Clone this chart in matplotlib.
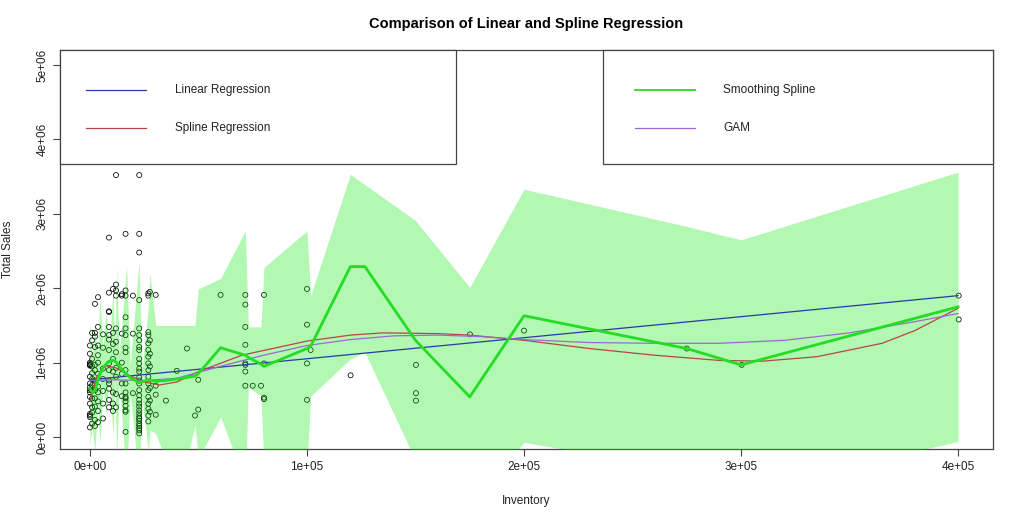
import numpy as np
import matplotlib
matplotlib.use('Agg')
import matplotlib.pyplot as plt
from matplotlib.patches import Rectangle
from matplotlib.lines import Line2D
from matplotlib.ticker import FuncFormatter

plt.rcParams['font.family'] = ['Liberation Sans', 'DejaVu Sans']

# scatter data: inventory columns and total sales (millions)
cols = {
    0: [0.13, 0.27, 0.29, 0.31, 0.45, 0.54, 0.60, 0.63, 0.67, 0.72, 0.81, 0.96, 0.97, 0.98, 1.00, 1.12, 1.23],
    1000: [0.18, 0.33, 0.40, 0.52, 0.62, 0.70, 0.78, 0.86, 0.95, 1.05, 1.30, 1.40],
    2300: [0.15, 0.23, 0.41, 0.52, 0.63, 0.72, 0.76, 0.90, 0.97, 1.21, 1.35, 1.40, 1.79],
    3700: [0.20, 0.35, 0.48, 0.60, 0.68, 0.85, 1.00, 1.10, 1.23, 1.48, 1.88],
    6000: [0.25, 0.45, 0.62, 0.78, 0.92, 1.20, 1.38],
    8750: [2.68, 1.94, 1.69, 1.68, 1.48, 1.37, 1.31, 1.17, 0.99, 0.90, 0.76, 0.72, 0.65, 0.50, 0.40],
    10600: [1.99, 1.40, 1.25, 1.05, 0.88, 0.60, 0.45, 0.35],
    12000: [3.52, 2.05, 1.97, 1.90, 1.46, 1.28, 1.14, 0.93, 0.81, 0.58, 0.40],
    14700: [1.92, 1.90, 1.39, 1.00, 0.85, 0.72, 0.55],
    16400: [2.73, 1.97, 1.90, 1.61, 1.46, 1.37, 1.20, 1.14, 0.90, 0.72, 0.60, 0.54, 0.52, 0.48, 0.42, 0.36, 0.34, 0.07],
    19800: [1.90, 1.39, 0.59],
    22700: [3.52, 2.73, 2.48, 1.84, 1.46, 1.37, 1.30, 1.21, 1.17, 1.05, 0.99, 0.92, 0.88, 0.80, 0.76, 0.72,
            0.63, 0.56, 0.50, 0.45, 0.41, 0.36, 0.32, 0.28, 0.25, 0.22, 0.18, 0.15, 0.12, 0.09, 0.05],
    26900: [1.93, 1.90, 1.41, 1.37, 1.26, 1.17, 1.08, 0.99, 0.90, 0.81, 0.72, 0.63, 0.54, 0.45, 0.38, 0.29, 0.21],
    27600: [1.95, 1.30, 1.12, 0.95, 0.66, 0.49, 0.34],
    30300: [1.91, 0.69, 0.57, 0.30],
    35000: [0.49],
    40000: [0.89],
    44700: [1.19],
    48400: [0.29],
    49900: [0.37, 0.77],
    60200: [1.91],
    71600: [1.91, 1.78, 1.48, 1.24, 0.99, 0.97, 0.88, 0.69],
    75000: [0.69],
    78800: [0.69],
    80200: [1.91, 0.99, 0.51, 0.53],
    100000: [1.99, 1.51, 0.99, 0.50],
    101700: [1.17],
    120100: [0.83],
    150200: [0.97, 0.59, 0.49],
    175100: [1.38],
    200000: [1.43],
    275000: [1.19],
    300300: [0.97],
    400300: [1.90, 1.58],
}
inventory = []
sales = []
for k, v in cols.items():
    inventory += [k] * len(v)
    sales += v
inventory = np.array(inventory)
sales = np.array(sales) * 1e6

# linear regression fit (ends of the line)
lin_x = [0, 400000]
lin_y = [0.77, 1.90]

# spline regression curve
spl_x = [0, 3000, 7000, 12000, 18000, 25000, 32000, 40000, 50000, 70000, 100000, 120000, 135000,
         160000, 175000, 200000, 230000, 260000, 290000, 310000, 335000, 365000, 380000, 400000]
spl_y = [0.48, 0.80, 0.96, 0.93, 0.83, 0.74, 0.70, 0.74, 0.88, 1.10, 1.29, 1.37, 1.40,
         1.39, 1.37, 1.30, 1.19, 1.10, 1.03, 1.02, 1.08, 1.26, 1.43, 1.73]

# GAM curve
gam_x = [0, 10000, 25000, 40000, 60000, 80000, 100000, 120000, 140000, 160000, 180000, 200000,
         230000, 260000, 290000, 320000, 350000, 380000, 400000]
gam_y = [0.76, 0.77, 0.76, 0.79, 0.95, 1.10, 1.23, 1.31, 1.36, 1.37, 1.35, 1.31,
         1.27, 1.26, 1.26, 1.30, 1.40, 1.55, 1.66]

# smoothing spline with its band
ss_x = [0, 1000, 2300, 3500, 4600, 6000, 7400, 9000, 10600, 11500, 12300, 13500, 16900, 18500,
        22600, 24000, 26900, 27600, 30300, 35000, 44700, 48400, 49900, 60200, 71600, 73000, 78800,
        80200, 100000, 101700, 120000, 126700, 150000, 175000, 200000, 275000, 300000, 400000]
ss_y = [0.65, 0.60, 0.62, 0.75, 0.85, 0.93, 0.98, 1.02, 1.03, 1.02, 1.00, 0.95, 0.84, 0.80,
        0.73, 0.74, 0.77, 0.76, 0.75, 0.76, 0.80, 0.82, 0.85, 1.20, 1.10, 1.07, 0.98,
        0.95, 1.19, 1.22, 2.29, 2.29, 1.30, 0.54, 1.63, 1.19, 0.97, 1.75]
ss_lo = [-0.10, 0.15, -0.20, 0.45, -0.10, 0.70, 0.30, 0.85, 0.00, 0.80, -0.30, 0.75, -0.60, 0.62,
         -0.60, 0.55, -0.20, 0.10, 0.05, -0.30, -0.30, 0.16, -0.29, 0.27, -0.60, 0.67, 0.55,
         -0.40, -0.39, 0.55, 1.05, 1.14, -0.31, -0.93, -0.07, -0.45, -0.71, -0.06]
ss_hi = [1.55, 1.05, 1.50, 1.05, 1.90, 1.20, 1.70, 1.20, 2.00, 1.20, 2.28, 1.10, 2.30, 0.95,
         2.35, 0.90, 1.75, 2.20, 1.50, 1.50, 1.50, 1.50, 1.99, 2.13, 2.77, 1.48, 1.48,
         2.28, 2.77, 1.90, 3.53, 3.39, 2.91, 2.01, 3.33, 2.83, 2.65, 3.56]

M = 1e6
c_lin = '#2b3aa8'
c_spl = '#b8454a'
c_ss = '#22dd22'
c_gam = '#9a6ad0'

fig = plt.figure(figsize=(10.24, 5.12), dpi=100)
ax = fig.add_axes([60 / 1024, 1 - 449 / 512, 933 / 1024, 399 / 512])

ax.scatter(inventory, sales, s=13, facecolors='none', edgecolors='black', linewidths=0.55, zorder=2)
ax.fill_between(ss_x, np.array(ss_lo) * M, np.array(ss_hi) * M, color=(0, 0.9, 0), alpha=0.3,
                linewidth=0, zorder=3)
ax.plot(lin_x, np.array(lin_y) * M, color=c_lin, lw=0.9, zorder=4)
ax.plot(spl_x, np.array(spl_y) * M, color=c_spl, lw=0.9, zorder=4)
ax.plot(ss_x, np.array(ss_y) * M, color=c_ss, lw=2, zorder=5)
ax.plot(gam_x, np.array(gam_y) * M, color=c_gam, lw=0.9, zorder=4)

ax.set_xlim(-13800, 416100)
ax.set_ylim(-0.16e6, 5.2e6)
ax.set_xticks([0, 100000, 200000, 300000, 400000])
ax.set_yticks([0, 1e6, 2e6, 3e6, 4e6, 5e6])
fmt = FuncFormatter(lambda v, p: f'{v:.0e}')
ax.xaxis.set_major_formatter(fmt)
ax.yaxis.set_major_formatter(fmt)
ax.tick_params(direction='out', length=5, width=0.8, colors='#444444', labelcolor='#222222', labelsize=8.5)
for lab in ax.get_yticklabels():
    lab.set_rotation(90)
    lab.set_va('center')
for s in ax.spines.values():
    s.set_color('#444444')
    s.set_linewidth(0.9)

ax.set_title('Comparison of Linear and Spline Regression', fontsize=10.5, fontweight='bold', pad=16)
ax.set_xlabel('Inventory', fontsize=8.5, labelpad=16, color='#222222')
ax.set_ylabel('Total Sales', fontsize=8.5, labelpad=16, color='#222222')

# legends drawn as R-style boxes
def legend_box(x0, x1, items, lx0, lx1, tx):
    ax.add_patch(Rectangle((x0, 0.714), x1 - x0, 0.286, transform=ax.transAxes, facecolor='white',
                           edgecolor='#444444', lw=0.9, zorder=6, clip_on=False))
    for (lab, col, lw), yy in zip(items, [0.8997, 0.8045]):
        ax.add_line(Line2D([lx0, lx1], [yy, yy], transform=ax.transAxes, color=col, lw=lw, zorder=7))
        ax.text(tx, yy, lab, transform=ax.transAxes, va='center', ha='left', fontsize=8.5,
                color='#222222', zorder=7)

legend_box(0.0, 0.4244, [('Linear Regression', c_lin, 0.9), ('Spline Regression', c_spl, 0.9)],
           0.0279, 0.0922, 0.1233)
legend_box(0.582, 1.0, [('Smoothing Spline', c_ss, 1.3), ('GAM', c_gam, 0.9)],
           0.6163, 0.6806, 0.7106)

fig.savefig('out.png', dpi=100)
